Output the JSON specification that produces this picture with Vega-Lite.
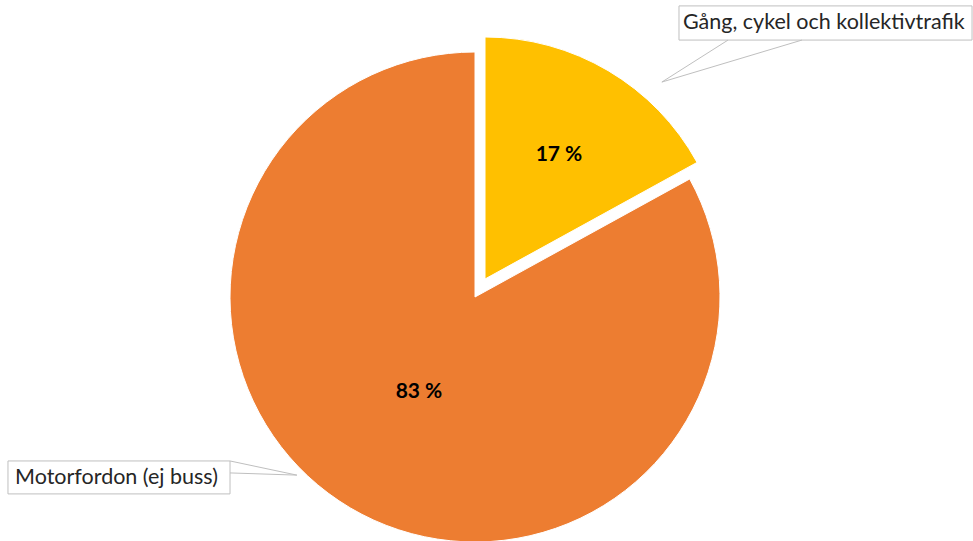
{
  "$schema": "https://vega.github.io/schema/vega-lite/v6.json",
  "width": 950,
  "height": 488,
  "autosize": {"type": "none"},
  "padding": {"left": 0, "top": 53, "right": 23, "bottom": 0},
  "background": "white",
  "config": {"view": {"stroke": null}},
  "data": {
    "values": [
      {"category": "Gång, cykel och kollektivtrafik", "value": 17, "label": "17 %"},
      {"category": "Motorfordon (ej buss)", "value": 83, "label": "83 %"}
    ]
  },
  "layer": [
    {
      "transform": [
        {"stack": "value", "groupby": [], "as": ["v0", "v1"]},
        {"filter": "datum.category == 'Motorfordon (ej buss)'"}
      ],
      "mark": {"type": "arc", "outerRadius": 245, "color": "#ED7D31", "stroke": "white", "strokeWidth": 1},
      "encoding": {
        "theta": {"field": "v0", "type": "quantitative", "scale": {"domain": [0, 100], "range": [0, 6.283185307]}},
        "theta2": {"field": "v1"},
        "x": {"datum": 0, "type": "quantitative", "scale": {"domain": [-194.67, 194.67], "nice": false, "zero": false}, "axis": null},
        "y": {"datum": 0, "type": "quantitative", "scale": {"domain": [-100, 100], "nice": false, "zero": false}, "axis": null}
      }
    },
    {
      "transform": [
        {"stack": "value", "groupby": [], "as": ["v0", "v1"]},
        {"filter": "datum.category == 'Gång, cykel och kollektivtrafik'"}
      ],
      "mark": {"type": "arc", "outerRadius": 242, "color": "#FFC000", "stroke": "white", "strokeWidth": 1, "xOffset": 10, "yOffset": -18},
      "encoding": {
        "theta": {"field": "v0", "type": "quantitative", "scale": {"domain": [0, 100], "range": [0, 6.283185307]}},
        "theta2": {"field": "v1"},
        "x": {"datum": 0, "type": "quantitative", "scale": {"domain": [-194.67, 194.67], "nice": false, "zero": false}, "axis": null},
        "y": {"datum": 0, "type": "quantitative", "scale": {"domain": [-100, 100], "nice": false, "zero": false}, "axis": null}
      }
    },
    {
      "mark": {"type": "text", "font": "Lato", "fontWeight": "bold", "fontSize": 21, "color": "#000000", "align": "center", "baseline": "middle"},
      "encoding": {
        "theta": {"field": "value", "type": "quantitative", "stack": true, "scale": {"domain": [0, 100], "range": [0, 6.283185307]}},
        "radius": {"field": "value", "type": "quantitative", "scale": {"type": "linear", "domain": [17, 83], "range": [165, 110], "zero": false}, "legend": null},
        "x": {"datum": 0, "type": "quantitative", "scale": {"domain": [-194.67, 194.67], "nice": false, "zero": false}, "axis": null},
        "y": {"datum": 0, "type": "quantitative", "scale": {"domain": [-100, 100], "nice": false, "zero": false}, "axis": null},
        "text": {"field": "label", "type": "nominal"}
      }
    },
    {
      "data": {"values": [{}]},
      "mark": {"type": "rect", "fill": "white", "stroke": "#BFBFBF", "strokeWidth": 1},
      "encoding": {
        "x": {"datum": 83.6, "type": "quantitative", "scale": {"domain": [-194.67, 194.67], "nice": false, "zero": false}, "axis": null},
        "x2": {"datum": 203.7},
        "y": {"datum": 119.3, "type": "quantitative", "scale": {"domain": [-100, 100], "nice": false, "zero": false}, "axis": null},
        "y2": {"datum": 105.3}
      }
    },
    {
      "data": {"values": [{}]},
      "mark": {"type": "rule", "stroke": "#BFBFBF", "strokeWidth": 1},
      "encoding": {
        "x": {"datum": 103.7, "type": "quantitative", "scale": {"domain": [-194.67, 194.67], "nice": false, "zero": false}, "axis": null},
        "x2": {"datum": 76.6},
        "y": {"datum": 105.3, "type": "quantitative", "scale": {"domain": [-100, 100], "nice": false, "zero": false}, "axis": null},
        "y2": {"datum": 88.1}
      }
    },
    {
      "data": {"values": [{}]},
      "mark": {"type": "rule", "stroke": "#BFBFBF", "strokeWidth": 1},
      "encoding": {
        "x": {"datum": 134.0, "type": "quantitative", "scale": {"domain": [-194.67, 194.67], "nice": false, "zero": false}, "axis": null},
        "x2": {"datum": 76.6},
        "y": {"datum": 105.3, "type": "quantitative", "scale": {"domain": [-100, 100], "nice": false, "zero": false}, "axis": null},
        "y2": {"datum": 88.1}
      }
    },
    {
      "data": {"values": [{}]},
      "mark": {"type": "text", "font": "Lato", "fontSize": 21.5, "color": "#262626", "align": "left", "baseline": "middle", "text": "Gång, cykel och kollektivtrafik"},
      "encoding": {
        "x": {"datum": 85.2, "type": "quantitative", "scale": {"domain": [-194.67, 194.67], "nice": false, "zero": false}, "axis": null},
        "y": {"datum": 112.3, "type": "quantitative", "scale": {"domain": [-100, 100], "nice": false, "zero": false}, "axis": null}
      }
    },
    {
      "data": {"values": [{}]},
      "mark": {"type": "rect", "fill": "white", "stroke": "#BFBFBF", "strokeWidth": 1},
      "encoding": {
        "x": {"datum": -191.4, "type": "quantitative", "scale": {"domain": [-194.67, 194.67], "nice": false, "zero": false}, "axis": null},
        "x2": {"datum": -100.4},
        "y": {"datum": -67.2, "type": "quantitative", "scale": {"domain": [-100, 100], "nice": false, "zero": false}, "axis": null},
        "y2": {"datum": -80.7}
      }
    },
    {
      "data": {"values": [{}]},
      "mark": {"type": "rule", "stroke": "#BFBFBF", "strokeWidth": 1},
      "encoding": {
        "x": {"datum": -100.4, "type": "quantitative", "scale": {"domain": [-194.67, 194.67], "nice": false, "zero": false}, "axis": null},
        "x2": {"datum": -73.0},
        "y": {"datum": -67.2, "type": "quantitative", "scale": {"domain": [-100, 100], "nice": false, "zero": false}, "axis": null},
        "y2": {"datum": -73.0}
      }
    },
    {
      "data": {"values": [{}]},
      "mark": {"type": "rule", "stroke": "#BFBFBF", "strokeWidth": 1},
      "encoding": {
        "x": {"datum": -100.4, "type": "quantitative", "scale": {"domain": [-194.67, 194.67], "nice": false, "zero": false}, "axis": null},
        "x2": {"datum": -73.0},
        "y": {"datum": -72.1, "type": "quantitative", "scale": {"domain": [-100, 100], "nice": false, "zero": false}, "axis": null},
        "y2": {"datum": -73.0}
      }
    },
    {
      "data": {"values": [{}]},
      "mark": {"type": "text", "font": "Lato", "fontSize": 21.5, "color": "#262626", "align": "left", "baseline": "middle", "text": "Motorfordon (ej buss)"},
      "encoding": {
        "x": {"datum": -188.5, "type": "quantitative", "scale": {"domain": [-194.67, 194.67], "nice": false, "zero": false}, "axis": null},
        "y": {"datum": -74.0, "type": "quantitative", "scale": {"domain": [-100, 100], "nice": false, "zero": false}, "axis": null}
      }
    }
  ]
}
